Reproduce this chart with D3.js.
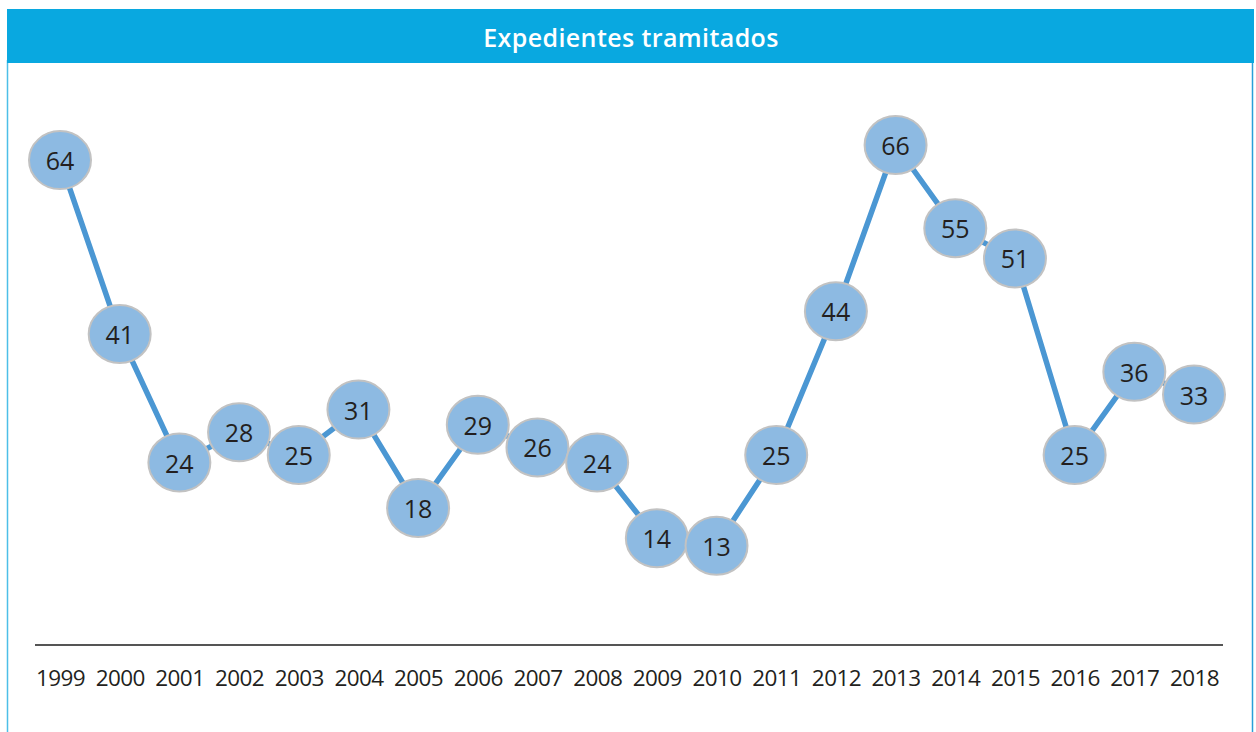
<!DOCTYPE html>
<html>
<head>
<meta charset="utf-8">
<script src="https://cdn.jsdelivr.net/npm/d3@7"></script>
<style>
  html, body { margin: 0; padding: 0; background: #fff; }
  svg { display: block; }
</style>
</head>
<body>
<svg id="chart" width="1256" height="732"></svg>
<script>
const title = 'Expedientes tramitados'
const years = ['1999', '2000', '2001', '2002', '2003', '2004', '2005', '2006', '2007', '2008',
  '2009', '2010', '2011', '2012', '2013', '2014', '2015', '2016', '2017', '2018']
const values = [64, 41, 24, 28, 25, 31, 18, 29, 26, 24, 14, 13, 25, 44, 66, 55, 51, 25, 36, 33]

const W = 1256, H = 732
const svg = d3.select('#chart')
const fontFamily = '"Open Sans", "Noto Sans", sans-serif'

// Frame: blue title bar plus thin side borders
svg.append('line')
  .attr('x1', 7.5).attr('x2', 7.5).attr('y1', 60).attr('y2', H)
  .attr('stroke', '#4dbfe8').attr('stroke-width', 1.5)
svg.append('line')
  .attr('x1', 1252.5).attr('x2', 1252.5).attr('y1', 60).attr('y2', H)
  .attr('stroke', '#2a9fd8').attr('stroke-width', 1.5)
svg.append('rect')
  .attr('x', 7).attr('y', 9).attr('width', 1247).attr('height', 54)
  .attr('fill', '#09a8e0')
svg.append('text')
  .attr('x', 631).attr('y', 37)
  .attr('text-anchor', 'middle')
  .attr('dominant-baseline', 'central')
  .attr('fill', '#fff')
  .style('font-family', fontFamily)
  .style('font-weight', 600)
  .style('font-size', '25px')
  .style('letter-spacing', '0.4px')
  .text(title)

// Scales
const x = d3.scalePoint().domain(years).range([60, 1194])
const y = d3.scaleLinear().domain([0, 66]).range([644, 145])

// Baseline axis
const axis = d3.axisBottom(x).tickSize(0).tickPadding(25)
const gAxis = svg.append('g')
  .attr('transform', 'translate(0,645)')
  .call(axis)
gAxis.select('.domain').remove()
gAxis.append('line')
  .attr('x1', 35).attr('x2', 1223)
  .attr('stroke', '#555').attr('stroke-width', 2)
gAxis.selectAll('.tick text')
  .attr('fill', '#231f20')
  .style('font-family', fontFamily)
  .style('font-weight', 500)
  .style('font-size', '22.5px')
  .style('letter-spacing', '-0.6px')

// Line
const line = d3.line()
  .x((d, i) => x(years[i]))
  .y(d => y(d))
svg.append('path')
  .datum(values)
  .attr('d', line)
  .attr('fill', 'none')
  .attr('stroke', '#4b97d3')
  .attr('stroke-width', 5.5)

// Ellipse markers with value labels
const pts = svg.append('g').selectAll('g.pt')
  .data(values)
  .join('g')
  .attr('class', 'pt')
  .attr('transform', (d, i) => `translate(${x(years[i])},${y(d)})`)
pts.append('ellipse')
  .attr('rx', 31).attr('ry', 29)
  .attr('fill', '#8dbae2')
  .attr('stroke', '#c2c2c2')
  .attr('stroke-width', 2)
pts.append('text')
  .attr('text-anchor', 'middle')
  .attr('dominant-baseline', 'central')
  .attr('fill', '#231f20')
  .style('font-family', fontFamily)
  .style('font-weight', 500)
  .style('font-size', '25px')
  .text(d => d)
</script>
</body>
</html>
